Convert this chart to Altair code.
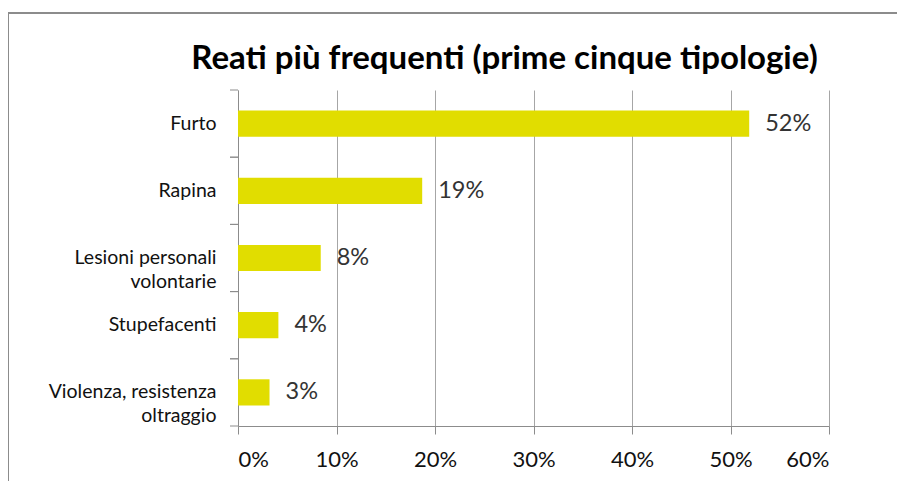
import altair as alt
import pandas as pd

categories = ["Furto", "Rapina", "Lesioni personali\nvolontarie", "Stupefacenti",
              "Violenza, resistenza\noltraggio"]
values = [0.519, 0.187, 0.084, 0.041, 0.032]
x_ticks = [0, 0.1, 0.2, 0.3, 0.4, 0.5, 0.6]
title_text = "Reati più frequenti (prime cinque tipologie)"

df = pd.DataFrame({"cat": categories, "val": values})
frame_df = pd.DataFrame({"f": [0]})

FONT = "Lato"
GRID = "#a6a6a6"
AXIS = "#8c8c8c"

y_enc = alt.Y("cat:N", sort=categories, title=None,
              scale=alt.Scale(paddingInner=0, paddingOuter=0),
              axis=alt.Axis(ticks=False, grid=False, domainColor=AXIS,
                            labelFont=FONT, labelFontSize=19.5, labelColor="#111111",
                            labelPadding=22, labelLineHeight=24,
                            labelExpr="split(datum.label, '\\n')"))
x_enc = alt.X("val:Q", title=None,
              scale=alt.Scale(domain=[0, 0.6], nice=False),
              axis=alt.Axis(values=x_ticks, format=".0%", grid=True, gridColor=GRID,
                            domainColor=AXIS, tickColor=AXIS, tickSize=8,
                            labelFont=FONT, labelFontSize=22, labelColor="#111111",
                            labelPadding=15))

frame = alt.Chart(frame_df).mark_rect(fillOpacity=0, stroke="#8c8c8c", strokeWidth=2).encode(
    x=alt.value(-230), x2=alt.value(900), y=alt.value(-77), y2=alt.value(600))

bars = alt.Chart(df).mark_bar(color="#e1dd00", height={"band": 0.39}).encode(x=x_enc, y=y_enc)

labels = alt.Chart(df).mark_text(align="left", baseline="middle", dx=16, font=FONT,
                                 fontSize=23.5, color="#333333").encode(
    x="val:Q", y=alt.Y("cat:N", sort=categories),
    text=alt.Text("val:Q", format=".0%"))

ticks_top = alt.Chart(df).mark_rule(color=AXIS).encode(
    y=alt.Y("cat:N", sort=categories, bandPosition=0),
    x=alt.value(-8), x2=alt.value(0))
ticks_bot = alt.Chart(df).mark_rule(color=AXIS).encode(
    y=alt.Y("cat:N", sort=categories, bandPosition=1),
    x=alt.value(-8), x2=alt.value(0))

chart = alt.layer(frame, bars, labels, ticks_top, ticks_bot).properties(
    width=591, height=336,
    autosize=alt.AutoSizeParams(type="none"),
    padding={"left": 230, "top": 82, "right": 68, "bottom": 55},
    title=alt.TitleParams(title_text, font=FONT, fontSize=33, fontWeight="bold",
                          color="#000000", anchor="middle", dx=-29, offset=-90,
                          baseline="alphabetic"),
).configure_view(strokeWidth=0)

chart.save("out.html", embed_options={"renderer": "svg", "actions": False})
